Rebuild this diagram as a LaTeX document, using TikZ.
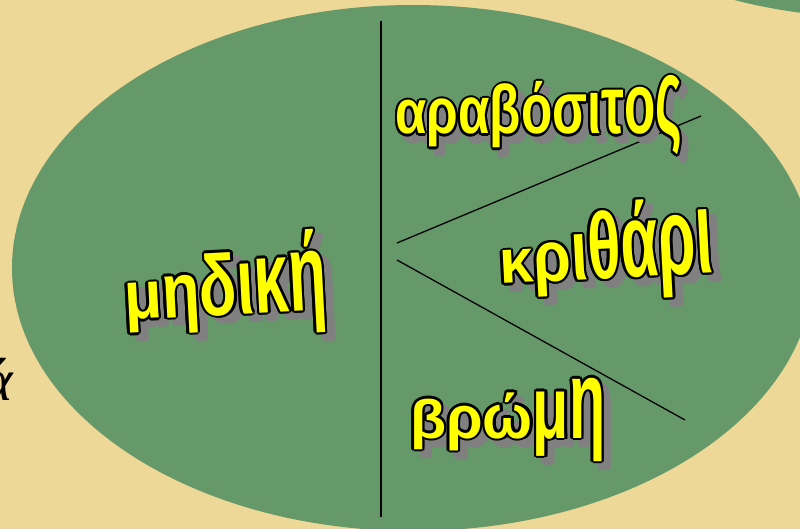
\documentclass[tikz,border=0pt]{standalone}
\usepackage{fontspec}
\setmainfont{Liberation Serif}
\newfontfamily\wafont{Liberation Sans}
\usepackage{tikz}
\usepackage{xcolor}

\definecolor{parchment}{RGB}{237,216,152}
\definecolor{ovalgreen}{RGB}{101,153,105}
\definecolor{wayellow}{RGB}{255,255,0}
\definecolor{wagray}{RGB}{128,128,128}

% one letter, stretched upwards
\newcommand\gl[2]{\scalebox{1}[#1]{#2}}
% shadow, outline, yellow fill
\newcommand\waword[2]{%
  \scalebox{#1}[1]{%
  \foreach \a in {0,30,...,330}{%
    \pgfmathsetlengthmacro\wdx{5+1.6*cos(\a)}%
    \pgfmathsetlengthmacro\wdy{-7+2.2*sin(\a)}%
    \makebox[0pt][l]{\hspace*{\wdx}\raisebox{\wdy}{\color{wagray}#2}}}%
  \foreach \a in {0,30,...,330}{%
    \pgfmathsetlengthmacro\wdx{1.6*cos(\a)}%
    \pgfmathsetlengthmacro\wdy{2.2*sin(\a)}%
    \makebox[0pt][l]{\hspace*{\wdx}\raisebox{\wdy}{\color{black}#2}}}%
  {\color{wayellow}#2}}}

\tikzset{
  wordart/.style={inner sep=0pt,anchor=base west,
    font=\wafont\bfseries\fontsize{40}{40}\selectfont},
  divider/.style={black,line width=2pt},
  branch/.style={black,line width=1.3pt}
}

\begin{document}
\begin{tikzpicture}[x=1pt,y=-1pt]
\fill[parchment] (0,0) rectangle (800,529);
\useasboundingbox (0,0) rectangle (800,529);
\fill[ovalgreen] (880,-245) ellipse [x radius=400,y radius=263];
\fill[ovalgreen] (413,268) ellipse [x radius=401,y radius=263];
\node[anchor=base east,font=\itshape\fontsize{60}{60}\selectfont] (cutoff) at (17,400) {ά};

\coordinate (midtop) at (381,21);
\coordinate (midbot) at (381,517);
\coordinate (forkup) at (397,243);
\coordinate (forkdown) at (397,260);
\coordinate (endup) at (701,116);
\coordinate (enddown) at (685,420);
\draw[divider] (midtop) -- (midbot);
\draw[branch] (forkup) -- (endup);
\draw[branch] (forkdown) -- (enddown);

\node[wordart] (corn) at (395,134)
  {\waword{1.28}{\gl{1.55}{α}\gl{1.61}{ρ}\gl{1.66}{α}\gl{1.72}{β}\gl{1.77}{ό}\gl{1.83}{σ}\gl{1.9}{ι}\gl{2.05}{τ}\gl{2.15}{ο}\gl{2.7}{ς}}};
\node[wordart,rotate=3] (alfalfa) at (125,320)
  {\waword{1.55}{\gl{1.7}{μ}\gl{1.95}{η}\gl{2.15}{δ}\gl{2.37}{ι}\gl{2.56}{κ}\gl{2.75}{ή}}};
\node[wordart,rotate=3] (barley) at (500,284)
  {\waword{1.53}{\gl{1.55}{κ}\gl{1.8}{ρ}\gl{2.15}{ι}\gl{2.35}{θ}\gl{2.6}{ά}\gl{2.75}{ρ}\gl{3.0}{ι}}};
\node[wordart] (oats) at (410,438)
  {\waword{1.48}{\gl{1.36}{β}\gl{1.5}{ρ}\gl{1.55}{ώ}\gl{2.2}{μ}\gl{2.8}{η}}};
\end{tikzpicture}
\end{document}
